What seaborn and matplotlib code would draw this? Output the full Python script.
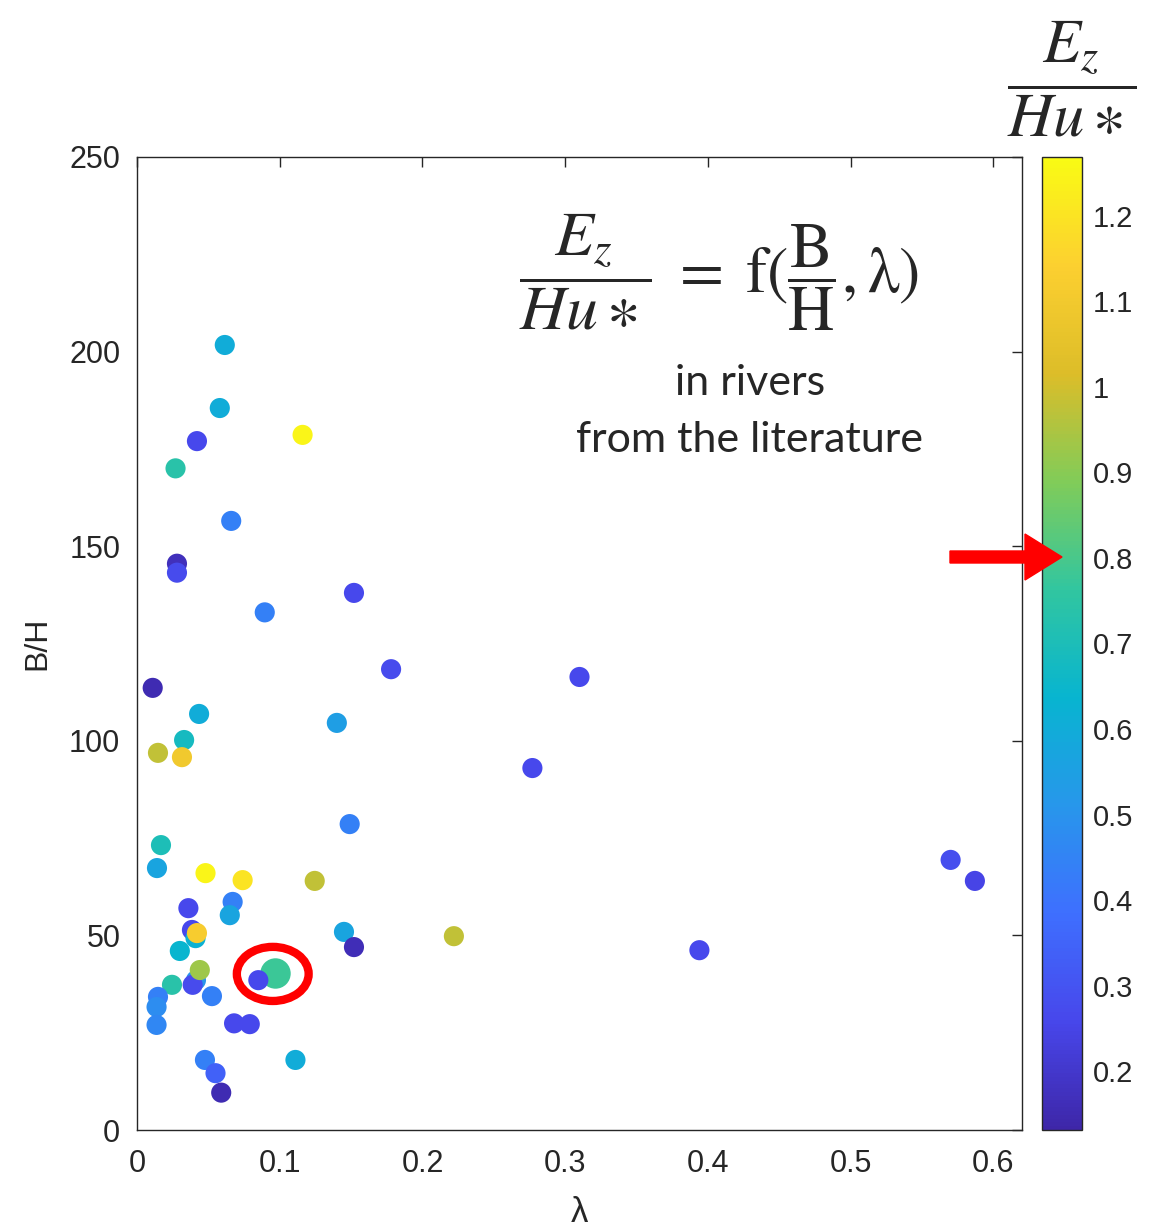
import matplotlib
matplotlib.use('Agg')
import matplotlib.pyplot as plt
import matplotlib.cm as cm
import seaborn as sns
import pandas as pd
from matplotlib.colors import LinearSegmentedColormap, Normalize
from matplotlib.patches import Ellipse, FancyArrow

sns.set_style('white')
plt.rcParams['font.family'] = ['Liberation Sans', 'DejaVu Sans']
plt.rcParams['mathtext.fontset'] = 'stix'

# river data: lambda, B/H, Ez/(H u*)
lam = [0.0615, 0.058, 0.042, 0.027, 0.116, 0.066, 0.028, 0.028, 0.0895, 0.152,
       0.178, 0.31, 0.011, 0.0435, 0.14, 0.033, 0.0147, 0.0315, 0.277, 0.149,
       0.0168, 0.014, 0.048, 0.074, 0.1245, 0.57, 0.587, 0.036, 0.067, 0.065,
       0.0385, 0.041, 0.042, 0.145, 0.152, 0.222, 0.394, 0.030, 0.0245, 0.0413,
       0.039, 0.044, 0.0525, 0.0147, 0.0137, 0.0137, 0.068, 0.079, 0.085, 0.0476,
       0.055, 0.059, 0.111]
bh = [201.7, 185.5, 177.0, 170.0, 178.6, 156.5, 145.5, 143.2, 133.0, 138.0,
      118.4, 116.4, 113.6, 106.9, 104.6, 100.2, 96.9, 95.8, 93.0, 78.6,
      73.2, 67.3, 66.0, 64.2, 64.0, 69.4, 64.0, 57.0, 58.6, 55.2,
      51.4, 49.3, 50.6, 50.9, 47.0, 49.8, 46.2, 46.0, 37.3, 38.5,
      37.3, 41.1, 34.4, 34.2, 31.6, 27.0, 27.4, 27.2, 38.5, 18.0,
      14.6, 9.6, 18.0]
ez = [0.60, 0.60, 0.26, 0.74, 1.25, 0.44, 0.17, 0.27, 0.44, 0.26,
      0.27, 0.26, 0.15, 0.60, 0.54, 0.68, 0.98, 1.10, 0.26, 0.44,
      0.70, 0.57, 1.25, 1.20, 0.98, 0.28, 0.25, 0.26, 0.44, 0.57,
      0.26, 0.62, 1.12, 0.57, 0.16, 0.98, 0.26, 0.64, 0.74, 0.50,
      0.27, 0.93, 0.44, 0.44, 0.48, 0.46, 0.26, 0.26, 0.26, 0.44,
      0.34, 0.15, 0.60]

# highlighted river (big marker inside the red ring)
hl_lam = [0.097]
hl_bh = [40.3]
hl_ez = [0.78]

cbar_ticks = [0.2, 0.3, 0.4, 0.5, 0.6, 0.7, 0.8, 0.9, 1.0, 1.1, 1.2]

# MATLAB parula, 10 samples
parula = LinearSegmentedColormap.from_list('parula', [
    (0.2422, 0.1504, 0.6603),
    (0.2803, 0.2782, 0.9221),
    (0.2440, 0.4358, 0.9988),
    (0.1540, 0.5902, 0.9218),
    (0.0297, 0.7082, 0.8163),
    (0.1938, 0.7758, 0.6251),
    (0.5044, 0.7993, 0.3480),
    (0.8634, 0.7406, 0.1596),
    (0.9892, 0.8136, 0.1885),
    (0.9769, 0.9839, 0.0805),
])
norm = Normalize(vmin=0.131, vmax=1.269)

W, H = 1159, 1228
fig = plt.figure(figsize=(W / 100, H / 100), dpi=100)
ax = fig.add_axes([137 / W, 1 - 1130 / H, 885 / W, 973 / H])
cax = fig.add_axes([1042 / W, 1 - 1130 / H, 40 / W, 973 / H])

df = pd.DataFrame({'lam': lam, 'bh': bh, 'ez': ez})
hl = pd.DataFrame({'lam': hl_lam, 'bh': hl_bh, 'ez': hl_ez})

sns.scatterplot(data=hl, x='lam', y='bh', hue='ez', palette=parula, hue_norm=norm,
                s=480, linewidth=0, legend=False, ax=ax, zorder=3)
sns.scatterplot(data=df, x='lam', y='bh', hue='ez', palette=parula, hue_norm=norm,
                s=210, linewidth=0, legend=False, ax=ax, zorder=3)

ring = Ellipse((0.0951, 40.1), 0.0503, 13.9, fill=False, edgecolor='#ff0000',
               linewidth=6, zorder=4)
ax.add_patch(ring)

ax.set_xlim(0, 0.62)
ax.set_ylim(0, 250)
ax.set_xticks([0, 0.1, 0.2, 0.3, 0.4, 0.5, 0.6])
ax.set_xticklabels(['0', '0.1', '0.2', '0.3', '0.4', '0.5', '0.6'])
ax.set_yticks([0, 50, 100, 150, 200, 250])
ax.tick_params(direction='in', length=7, width=1, colors='#262626', labelsize=22,
               top=True, right=True, pad=12)
ax.tick_params(axis='x', pad=14)
for sp in ax.spines.values():
    sp.set_color('#262626')
    sp.set_linewidth(1)
ax.set_xlabel('λ', fontsize=25, color='#262626', labelpad=12)
ax.set_ylabel('B/H', fontsize=23, color='#262626', labelpad=12)

cb = fig.colorbar(cm.ScalarMappable(norm=norm, cmap=parula), cax=cax, ticks=cbar_ticks)
cb.ax.set_yticklabels(['%g' % t for t in cbar_ticks])
cb.ax.tick_params(direction='in', length=7, colors='#262626', labelsize=21, pad=8)
cb.outline.set_edgecolor('#262626')
cb.outline.set_linewidth(1)

fig.text(1072 / W, 1 - 79 / H, r'$\dfrac{E_z}{Hu\ast}$', fontsize=45,
         ha='center', va='center')
fig.text(719 / W, 1 - 272 / H,
         r'$\dfrac{E_z}{Hu\ast}\;=\;\mathrm{f}(\dfrac{\mathrm{B}}{\mathrm{H}},\mathrm{\lambda})$',
         fontsize=46, ha='center', va='center')
fig.text(750 / W, 1 - 383 / H, 'in rivers', fontsize=31, family='Lato',
         ha='center', va='center')
fig.text(750 / W, 1 - 440 / H, 'from the literature', fontsize=31, family='Lato',
         ha='center', va='center')

arrow = FancyArrow(9.50, (H - 557) / 100, 1.12, 0, width=0.12, head_width=0.46,
                   head_length=0.37, length_includes_head=True, color='#ff0000',
                   transform=fig.dpi_scale_trans)
fig.patches.append(arrow)

fig.savefig('out.png', dpi=100)
